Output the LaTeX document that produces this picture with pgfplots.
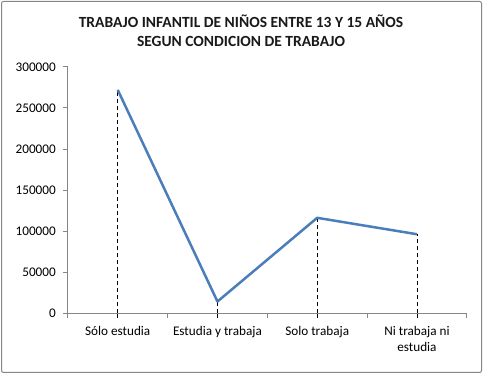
\documentclass[border=0pt]{standalone}
\usepackage{pgfplots}
\pgfplotsset{compat=1.18}
\usepackage{fontspec}
\setmainfont{Carlito}
\definecolor{exblue}{HTML}{4A7EBB}
\definecolor{exgray}{HTML}{868686}
\begin{document}
\begin{tikzpicture}[x=1pt,y=1pt]
\path (0,0) rectangle (483,374);
\draw[exgray, line width=1pt, rounded corners=2pt] (1.5,1.5) rectangle (481.5,372.5);
\node[font=\fontsize{15.5}{19}\selectfont\bfseries, align=center, text=black!90] at (241,343.5) {TRABAJO INFANTIL DE NIÑOS ENTRE 13 Y 15 AÑOS\\SEGUN CONDICION DE TRABAJO};
\begin{axis}[
  at={(68,74.3)}, anchor=south west,
  scale only axis, width=399pt, height=246.2pt,
  xmin=-0.5, xmax=3.5, ymin=0, ymax=300000,
  ytick={0,50000,100000,150000,200000,250000,300000},
  yticklabels={0,50000,100000,150000,200000,250000,300000},
  scaled y ticks=false,
  axis x line*=bottom, axis y line*=left,
  axis line style={exgray, line width=0.75pt, -},
  tick align=outside,
  major tick length=5pt, minor tick length=5pt,
  xtick={0,1,2,3},
  xticklabels={Sólo estudia, Estudia y trabaja, Solo trabaja, {Ni trabaja ni\\estudia}},
  minor xtick={-0.5,0.5,1.5,2.5,3.5},
  x tick style={black, line width=0.75pt},
  minor x tick style={exgray, line width=0.75pt},
  y tick style={exgray, line width=0.75pt},
  tick label style={font=\fontsize{13.2}{16}\selectfont},
  xticklabel style={align=center, yshift=-5pt},
  yticklabel style={xshift=-3.5pt},
  clip=false,
]
\addplot[ycomb, black, line width=0.75pt, dash pattern=on 4pt off 3pt] coordinates {(0,272000) (1,14000) (2,116000) (3,96000)};
\addplot[exblue, line width=2.5pt, line join=round] coordinates {(0,272000) (1,14000) (2,116000) (3,96000)};
\end{axis}
\end{tikzpicture}
\end{document}
